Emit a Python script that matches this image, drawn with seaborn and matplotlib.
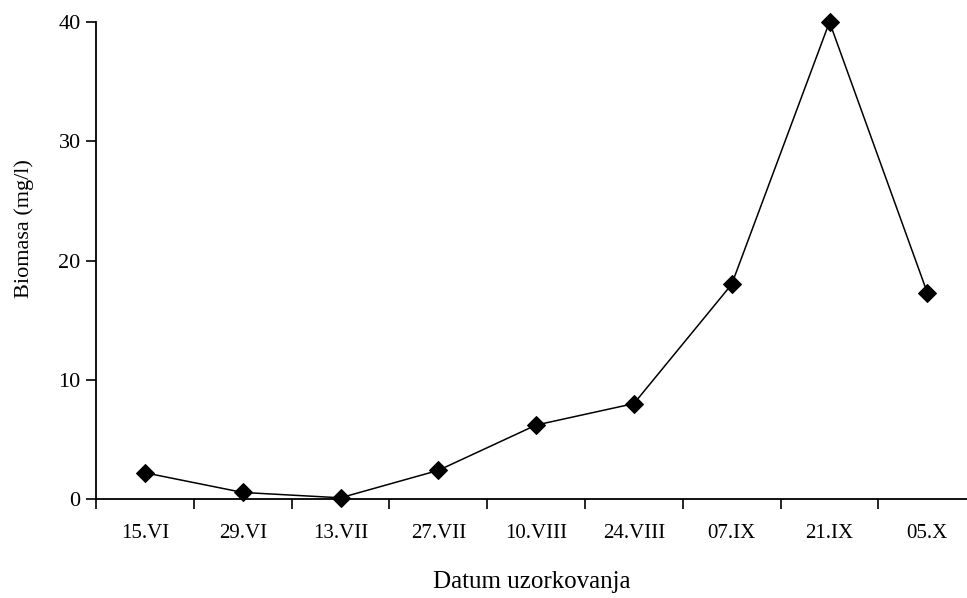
import numpy as np
import pandas as pd
import matplotlib
matplotlib.use('Agg')
import matplotlib.pyplot as plt
import seaborn as sns
from matplotlib.ticker import FixedLocator

# podaci
datumi = ['15.VI', '29.VI', '13.VII', '27.VII', '10.VIII', '24.VIII', '07.IX', '21.IX', '05.X']
biomasa = [2.2, 0.55, 0.1, 2.4, 6.2, 8.0, 18.0, 40.0, 17.3]

sns.set_style('white')
plt.rcParams['font.family'] = ['Liberation Serif', 'DejaVu Serif']
plt.rcParams['text.color'] = 'black'
plt.rcParams['axes.labelcolor'] = 'black'
plt.rcParams['xtick.color'] = 'black'
plt.rcParams['ytick.color'] = 'black'

df = pd.DataFrame({'poz': np.arange(len(datumi)), 'biomasa': biomasa})

fig = plt.figure(figsize=(9.67, 5.98), dpi=100)
ax = fig.add_axes([96 / 967, 99 / 598, 1 - 96 / 967, 477 / 598])

sns.lineplot(data=df, x='poz', y='biomasa', ax=ax, color='black', linewidth=1.1,
             marker='D', markersize=9, markerfacecolor='black', markeredgecolor='black')
for ln in ax.lines:
    ln.set_clip_on(False)

ax.set_xlim(-0.5, -0.5 + 871 / 97.8)
ax.set_ylim(0, 40)
ax.set_yticks([0, 10, 20, 30, 40])

ax.xaxis.set_major_locator(FixedLocator(np.arange(len(datumi))))
ax.set_xticklabels(datumi)
ax.xaxis.set_minor_locator(FixedLocator(np.arange(len(datumi)) - 0.5))
ax.tick_params(axis='x', which='major', length=0, pad=18, labelsize=15)
ax.tick_params(axis='x', which='minor', length=7, width=1.2, direction='out', bottom=True)
ax.tick_params(axis='y', length=7, width=1.2, direction='out', left=True, labelsize=16, pad=4)

ax.set_xlabel('Datum uzorkovanja', fontsize=18, labelpad=20)
ax.set_ylabel('Biomasa (mg/l)', fontsize=16)
ax.yaxis.set_label_coords(-0.071, 0.568)

sns.despine(ax=ax)
for s in ['left', 'bottom']:
    ax.spines[s].set_color('black')
    ax.spines[s].set_linewidth(1.3)

fig.savefig('out.png', dpi=100)
